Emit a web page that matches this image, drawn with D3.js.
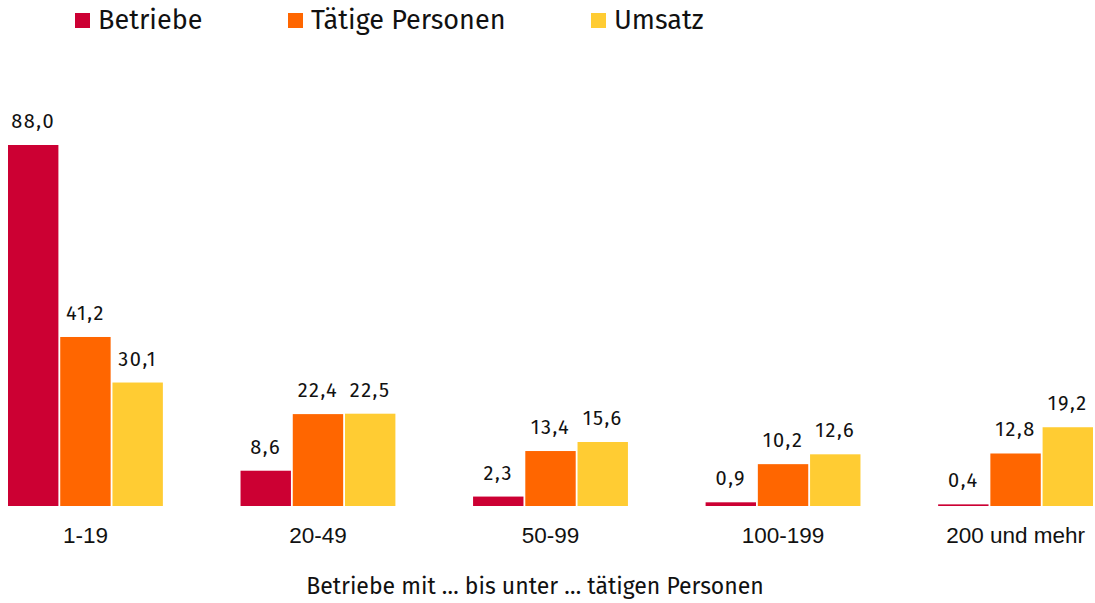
<!DOCTYPE html>
<html>
<head>
<meta charset="utf-8">
<script src="https://cdn.jsdelivr.net/npm/d3@7"></script>
<style>
  html, body { margin: 0; padding: 0; background: #fff; }
  svg { display: block; font-family: "Fira Sans", Lato, "Noto Sans", sans-serif; }
</style>
</head>
<body>
<svg id="chart" width="1095" height="603"></svg>
<script>
const categories = ["1-19", "20-49", "50-99", "100-199", "200 und mehr"];
const seriesNames = ["Betriebe", "Tätige Personen", "Umsatz"];
const betriebe = [88.0, 8.6, 2.3, 0.9, 0.4];
const taetigePersonen = [41.2, 22.4, 13.4, 10.2, 12.8];
const umsatz = [30.1, 22.5, 15.6, 12.6, 19.2];
const colors = ["#CC0033", "#FF6600", "#FFCC33"];
const xTitle = "Betriebe mit … bis unter … tätigen Personen";

const seriesValues = [betriebe, taetigePersonen, umsatz];
const fmt = v => v.toFixed(1).replace(".", ",");

const svg = d3.select("#chart");

const x0 = d3.scaleBand().domain(categories).range([8, 1093]).paddingInner(0.334).paddingOuter(0);
const x1 = d3.scaleBand().domain(seriesNames).range([0, x0.bandwidth()]).paddingInner(0.035);
const y = d3.scaleLinear().domain([0, d3.max(seriesValues.flat())]).range([506, 145]);

const groups = svg.append("g").selectAll("g")
  .data(categories)
  .join("g")
  .attr("transform", d => `translate(${x0(d)},0)`);

groups.selectAll("rect")
  .data((c, i) => seriesNames.map((s, k) => ({ s, k, v: seriesValues[k][i] })))
  .join("rect")
  .attr("x", d => x1(d.s))
  .attr("width", x1.bandwidth())
  .attr("y", d => y(d.v))
  .attr("height", d => y(0) - y(d.v))
  .attr("fill", d => colors[d.k]);

groups.selectAll("text.val")
  .data((c, i) => seriesNames.map((s, k) => ({ s, k, v: seriesValues[k][i] })))
  .join("text")
  .attr("class", "val")
  .attr("x", d => x1(d.s) + x1.bandwidth() / 2)
  .attr("y", d => y(d.v) - 17)
  .attr("text-anchor", "middle")
  .attr("font-size", 20)
  .attr("letter-spacing", 1.5)
  .attr("fill", "#111")
  .text(d => fmt(d.v));

// category axis labels
const xAxis = d3.axisBottom(x0).tickSize(0).tickPadding(0);
const ax = svg.append("g").attr("transform", "translate(0,506)").call(xAxis);
ax.select(".domain").remove();
ax.selectAll("text")
  .attr("y", 37)
  .attr("dy", 0)
  .attr("font-size", 22.5)
  .attr("font-family", null)
  .attr("fill", "#111");

svg.append("text")
  .attr("x", 535)
  .attr("y", 594)
  .attr("text-anchor", "middle")
  .attr("font-size", 23)
  .attr("fill", "#111")
  .text(xTitle);

// legend
const legendX = [75, 288, 591];
const legend = svg.append("g").selectAll("g")
  .data(seriesNames)
  .join("g")
  .attr("transform", (d, i) => `translate(${legendX[i]},0)`);
legend.append("rect")
  .attr("x", 0).attr("y", 13).attr("width", 15).attr("height", 15)
  .attr("fill", (d, i) => colors[i]);
legend.append("text")
  .attr("x", 23).attr("y", 29)
  .attr("font-size", 27)
  .attr("fill", "#111")
  .text(d => d);
</script>
</body>
</html>
